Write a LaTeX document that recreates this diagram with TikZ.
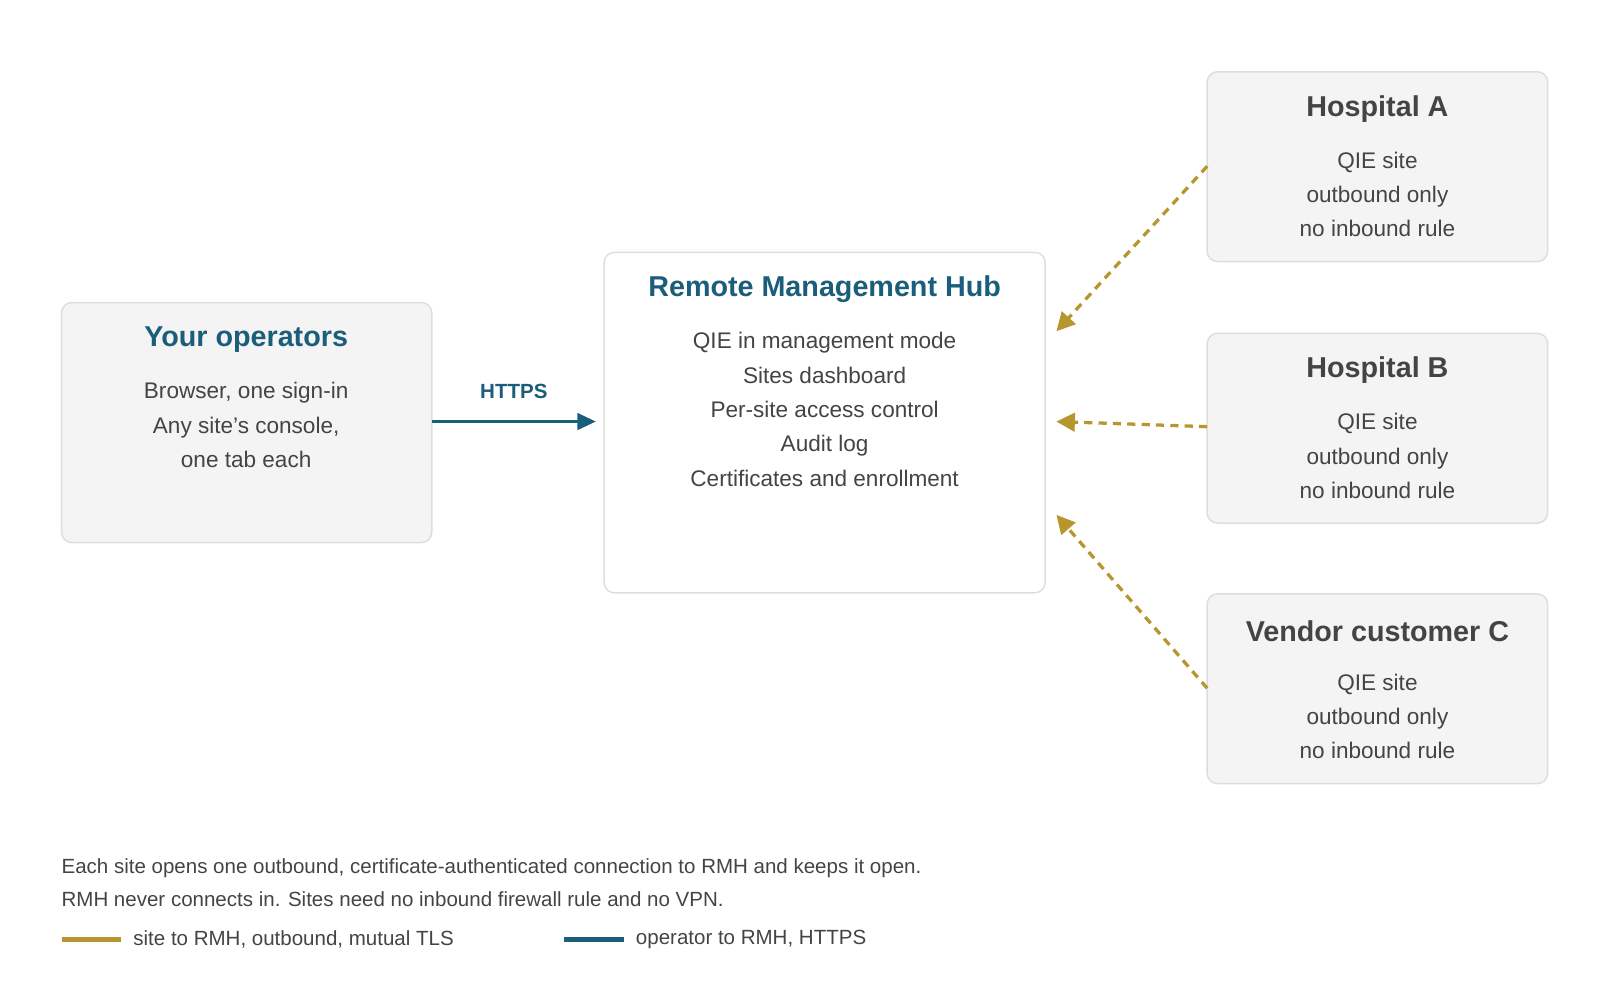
\documentclass[tikz,border=0pt]{standalone}
\usepackage{fontspec}
\setmainfont{Liberation Sans}
\usetikzlibrary{arrows.meta}
\definecolor{blu}{HTML}{1B5E7B}
\definecolor{gld}{HTML}{B8962E}
\definecolor{txt}{HTML}{444444}
\definecolor{bfill}{HTML}{F4F4F4}
\definecolor{bdr}{HTML}{DDDDDD}
\begin{document}
\begin{tikzpicture}[x=0.5pt,y=-0.5pt,
  box/.style={draw=bdr,line width=0.7pt,fill=bfill,rounded corners=5pt},
  hubbox/.style={draw=bdr,line width=0.7pt,fill=white,rounded corners=5pt},
  ttl/.style={font=\fontsize{14}{16}\selectfont\bfseries,text=#1},
  body/.style={font=\fontsize{11}{16.75}\selectfont,text=txt,align=center,anchor=north},
  site/.style={gld,line width=1.6pt,dash pattern=on 4pt off 3pt,-{Triangle[length=9pt,width=9pt]}},
  op/.style={blu,line width=1.6pt,-{Triangle[length=9pt,width=8pt]}},
  foot/.style={font=\fontsize{10}{12}\selectfont,text=txt,anchor=west}]
\useasboundingbox (0,0) rectangle (1560,975);
% boxes
\draw[box] (60,295) rectangle (421,529);
\node (opT) [ttl=blu] at (240,331) {Your operators};
\node (opB) [body] at (240,366) {Browser, one sign-in\\Any site's console,\\one tab each};
\draw[hubbox] (589,246) rectangle (1019,578);
\node (hubT) [ttl=blu] at (804,282) {Remote Management Hub};
\node (hubB) [body] at (804,317) {QIE in management mode\\Sites dashboard\\Per-site access control\\Audit log\\Certificates and enrollment};
\foreach \n/\t/\y in {A/Hospital A/70,B/Hospital B/325,C/Vendor customer C/579}{
  \draw[box] (1177,\y) rectangle (1509,\y+185);
  \node (s\n T) [ttl=txt] at (1343,\y+36) {\t};
  \node (s\n B) [body] at (1343,\y+71) {QIE site\\outbound only\\no inbound rule};
}
% connectors
\coordinate (opR) at (421,411);
\coordinate (hubL) at (581,411);
\draw[op] (opR) -- (hubL) node[midway,above=7pt,font=\fontsize{10}{12}\selectfont\bfseries,text=blu] {HTTPS};
\coordinate (aS) at (1177,162); \coordinate (aE) at (1030,323);
\coordinate (bS) at (1177,416); \coordinate (bE) at (1030,411);
\coordinate (cS) at (1177,671); \coordinate (cE) at (1030,502);
\draw[site] (aS) -- (aE);
\draw[site] (bS) -- (bE);
\draw[site] (cS) -- (cE);
% footer
\node (f1) [foot] at (53,846) {Each site opens one outbound, certificate-authenticated connection to RMH and keeps it open.};
\node (f2) [foot] at (53,877) {RMH never connects in. Sites need no inbound firewall rule and no VPN.};
\coordinate (g1) at (60,916); \coordinate (g2) at (118,916);
\draw[gld,line width=2pt] (g1) -- (g2);
\node (l1) [foot] at (123,916) {site to RMH, outbound, mutual TLS};
\coordinate (h1) at (550,916); \coordinate (h2) at (608,916);
\draw[blu,line width=2pt] (h1) -- (h2);
\node (l2) [foot] at (613,916) {operator to RMH, HTTPS};
\end{tikzpicture}
\end{document}
